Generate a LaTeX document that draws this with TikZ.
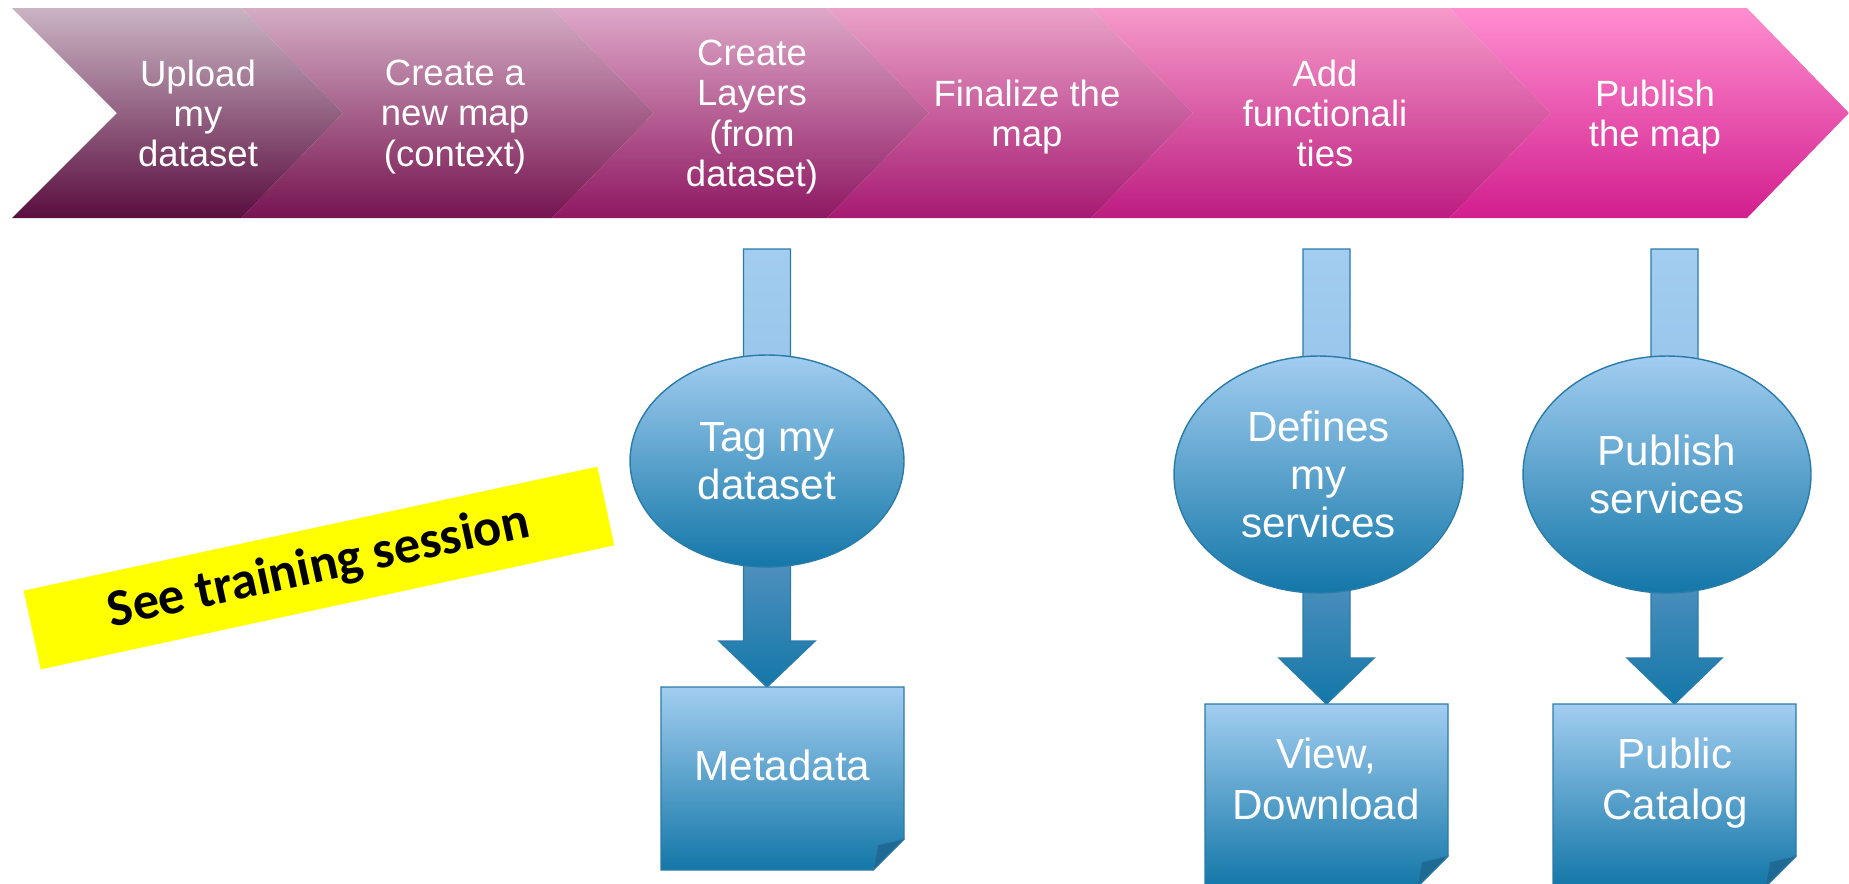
\documentclass[tikz,border=0pt]{standalone}
\usepackage{fontspec}
\setmainfont{Liberation Sans}
\newfontfamily\calibrifont{Carlito}
\usetikzlibrary{shapes.geometric}
\definecolor{c1t}{HTML}{CAB4C3}
\definecolor{c1b}{HTML}{5A0E40}
\definecolor{c2t}{HTML}{D4ACC4}
\definecolor{c2b}{HTML}{761450}
\definecolor{c3t}{HTML}{DEA8C8}
\definecolor{c3b}{HTML}{8E1862}
\definecolor{c4t}{HTML}{EAA2C8}
\definecolor{c4b}{HTML}{A61A72}
\definecolor{c5t}{HTML}{F69ACA}
\definecolor{c5b}{HTML}{BC1C80}
\definecolor{c6t}{HTML}{FF8ED0}
\definecolor{c6b}{HTML}{D21E8E}
\definecolor{blight}{HTML}{A2CDF0}
\definecolor{blight2}{HTML}{98C5EA}
\definecolor{bmid}{HTML}{4E90BE}
\definecolor{bdark}{HTML}{1377A8}
\definecolor{bline}{HTML}{2A7BAA}
\definecolor{bflap}{HTML}{1E6A94}
\definecolor{hilite}{HTML}{FFFF00}
\pgfdeclareverticalshading{bluearr}{100bp}{color(0bp)=(bdark); color(25bp)=(bdark); color(39bp)=(bmid); color(60bp)=(blight2); color(75bp)=(blight); color(100bp)=(blight)}
\begin{document}
\begin{tikzpicture}[x=0.02cm,y=-0.02cm,
  chevtext/.style={text=white, align=center, inner sep=0pt, font=\fontsize{20.8pt}{22.8pt}\selectfont},
  bluetext/.style={text=white, align=center, inner sep=0pt, font=\fontsize{24pt}{29pt}\selectfont},
  blockarrow/.style={shading=bluearr, draw=bline, line width=0.8pt},
  ellnode/.style={ellipse, top color=blight, bottom color=bdark, draw=bline, line width=0.8pt, inner sep=0pt, text=white, align=center, font=\fontsize{24pt}{27.3pt}\selectfont},
  docshape/.style={top color=blight, bottom color=bdark, draw=bline, line width=0.8pt},
  flap/.style={fill=bflap, draw=bline, line width=0.4pt},
  labelbox/.style={fill=hilite, inner sep=0pt, rotate=12.2, font=\calibrifont\bfseries\fontsize{30pt}{36pt}\selectfont}]
\useasboundingbox (0,0) rectangle (1849,883);
\clip (0,0) rectangle (1849,883);
% chevrons
\shade[top color=c6t, bottom color=c6b] (1449,8) -- (1747,8) -- (1849,113) -- (1747,218) -- (1449,218) -- (1551,113) -- cycle;
\shade[top color=c5t, bottom color=c5b] (1091,8) -- (1449,8) -- (1551,113) -- (1449,218) -- (1091,218) -- (1193,113) -- cycle;
\shade[top color=c4t, bottom color=c4b] (827,8) -- (1091,8) -- (1193,113) -- (1091,218) -- (827,218) -- (929,113) -- cycle;
\shade[top color=c3t, bottom color=c3b] (552,8) -- (827,8) -- (929,113) -- (827,218) -- (552,218) -- (654,113) -- cycle;
\shade[top color=c2t, bottom color=c2b] (241,8) -- (552,8) -- (654,113) -- (552,218) -- (241,218) -- (343,113) -- cycle;
\shade[top color=c1t, bottom color=c1b] (12,8) -- (241,8) -- (343,113) -- (241,218) -- (12,218) -- (117,113) -- cycle;
\node[chevtext] (s1) at (198,113) {Upload\\my\\dataset};
\node[chevtext] (s2) at (455,117) {Create a\\new map\\(context)};
\node[chevtext] (s3) at (752,117) {Create\\Layers\\(from\\dataset)};
\node[chevtext] (s4) at (1027,117) {Finalize the\\map};
\node[chevtext] (s5) at (1325,113) {Add\\functionali\\ties};
\node[chevtext] (s6) at (1655,117) {Publish\\the map};
% block arrows
\shadedraw[blockarrow] (743.5,249) -- (790.5,249) -- (790.5,641) -- (815,641) -- (767,687) -- (719,641) -- (743.5,641) -- cycle;
\shadedraw[blockarrow] (1303,249) -- (1350,249) -- (1350,658) -- (1374,658) -- (1326.5,704) -- (1279,658) -- (1303,658) -- cycle;
\shadedraw[blockarrow] (1651,249) -- (1698,249) -- (1698,658) -- (1722,658) -- (1674.5,704) -- (1627,658) -- (1651,658) -- cycle;
% ellipses
\node[ellnode, minimum width=5.48cm, minimum height=4.24cm] (e1) at (767,461) {Tag my\\dataset};
\node[ellnode, minimum width=5.78cm, minimum height=4.74cm] (e2) at (1318.5,474.5) {Defines\\my\\services};
\node[ellnode, minimum width=5.76cm, minimum height=4.74cm] (e3) at (1667,474.5) {Publish\\services};
% documents
\shadedraw[docshape] (661,687) -- (904,687) -- (904,839) -- (873,870) -- (661,870) -- cycle;
\filldraw[flap] (904,839) -- (873,870) -- (878,845) -- cycle;
\node[bluetext] (d1) at (782.5,765) {Metadata};
\shadedraw[docshape] (1205,704) -- (1448,704) -- (1448,856) -- (1417,887) -- (1205,887) -- cycle;
\filldraw[flap] (1448,856) -- (1417,887) -- (1422,862) -- cycle;
\node[bluetext] (d2) at (1326,779) {View,\\Download};
\shadedraw[docshape] (1553,704) -- (1796,704) -- (1796,856) -- (1765,887) -- (1553,887) -- cycle;
\filldraw[flap] (1796,856) -- (1765,887) -- (1770,862) -- cycle;
\node[bluetext] (d3) at (1675,783.5) {Public\\Catalog};
% highlight label
\node[labelbox, minimum width=11.74cm, minimum height=1.61cm] (see) at (319,568) {See training session};
\end{tikzpicture}
\end{document}
